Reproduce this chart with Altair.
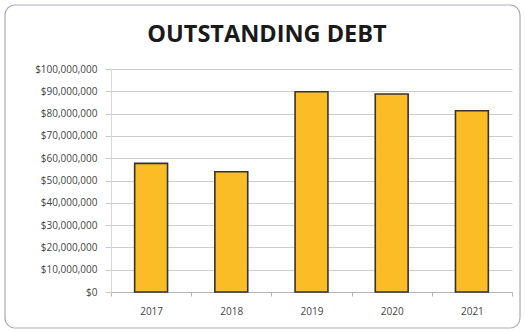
import altair as alt
import pandas as pd

title_text = "OUTSTANDING DEBT"
years = ["2017", "2018", "2019", "2020", "2021"]
debt = [57700000, 53900000, 89800000, 88800000, 81300000]

df = pd.DataFrame({"year": years, "debt": debt})

W, H = 401, 223
one = pd.DataFrame({"a": [0]})

border = alt.Chart(one).mark_rect(
    fill="white", fillOpacity=0, stroke="#a9abbd", strokeWidth=1.2,
    cornerRadius=10, clip=False
).encode(
    x=alt.value(-106), x2=alt.value(W + 8), y=alt.value(-64), y2=alt.value(H + 36)
)

title = alt.Chart(one).mark_text(
    font="Open Sans", fontSize=23.5, fontWeight="bold", color="#1a1a1a",
    baseline="alphabetic", align="center", clip=False
).encode(
    x=alt.value(156), y=alt.value(-27), text=alt.value(title_text)
)

bars = alt.Chart(df).mark_bar(
    color="#FBBD26", stroke="#35332e", strokeWidth=1.6,
    width=alt.RelativeBandSize(0.41)
).encode(
    x=alt.X("year:N", sort=years, title=None,
            scale=alt.Scale(paddingInner=0, paddingOuter=0),
            axis=alt.Axis(labelAngle=0, labelFont="Open Sans", labelFontSize=10,
                          labelColor="#444444", labelPadding=10, tickBand="extent",
                          tickColor="#b5b5b5", domainColor="#b5b5b5", tickSize=4,
                          grid=False)),
    y=alt.Y("debt:Q", title=None,
            scale=alt.Scale(domain=[0, 100000000], nice=False),
            axis=alt.Axis(values=list(range(0, 100000001, 10000000)),
                          format="$,.0f", labelFont="Open Sans", labelFontSize=10,
                          labelColor="#444444", labelPadding=8, tickSize=6,
                          tickColor="#c8c8c8", domain=True, domainColor="#d8d8d8",
                          gridColor="#cccccc", gridWidth=1.2)),
)

chart = alt.layer(border, title, bars).properties(
    width=W, height=H,
    autosize=alt.AutoSizeParams(type="none"),
    padding={"left": 111, "top": 69, "right": 13, "bottom": 41},
).configure_view(stroke=None)

chart.save("out.html", embed_options={"renderer": "svg", "actions": False})
